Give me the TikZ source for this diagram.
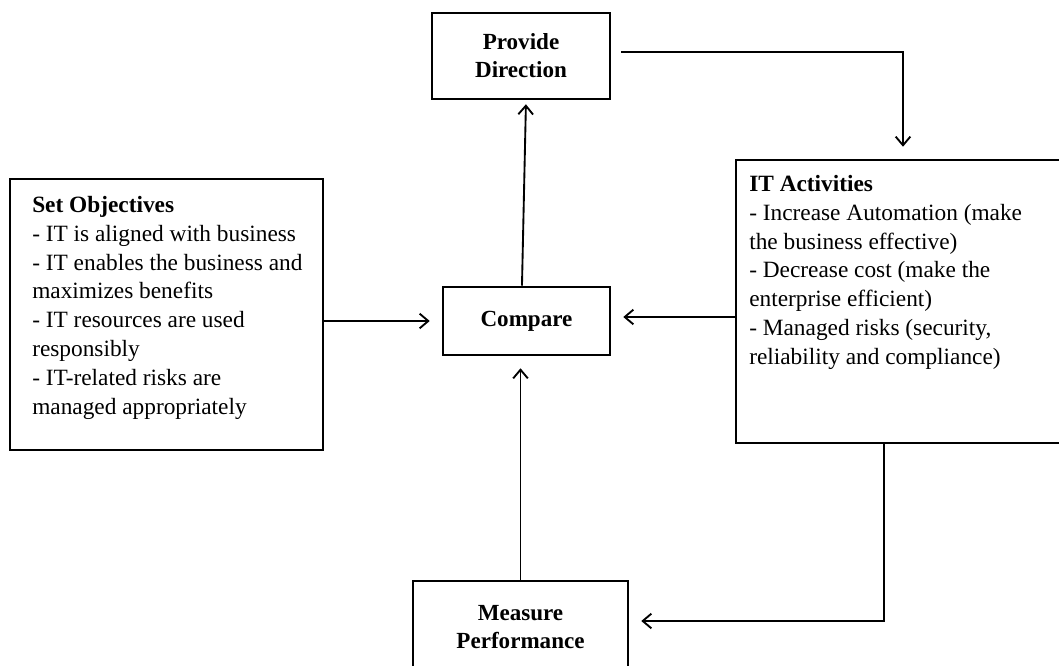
\documentclass[tikz,border=0pt]{standalone}
\usepackage{fontspec}
\setmainfont{Liberation Serif}
\usetikzlibrary{arrows.meta,calc}
\begin{document}
\begin{tikzpicture}[x=0.75pt,y=-0.75pt,
  box/.style={draw, line width=1.9pt, inner sep=0pt},
  lbl/.style={font=\fontsize{17.3}{21}\selectfont\bfseries, align=center},
  body/.style={font=\fontsize{17.5}{21.6}\selectfont, align=left, anchor=north west, inner sep=0pt},
  arr/.style={-{Straight Barb[length=6.5pt,width=11pt,line width=1.4pt]}, line width=1.4pt, shorten >=9pt}]
\path[use as bounding box] (0,0) rectangle (1059,666);
\clip (0,0) rectangle (1059,666);

\node[box, lbl, minimum width=133.5pt, minimum height=64.5pt] (prov) at (521,56) {Provide\\Direction};
\node[box, lbl, minimum width=125.25pt, minimum height=51pt] (cmp) at (526.5,321) {Compare};
\node[box, lbl, minimum width=161.25pt, minimum height=69pt] (meas) at (520.5,627) {Measure\\Performance};
\node[box, minimum width=234.75pt, minimum height=203.25pt] (set) at (166.5,314.5) {};
\node[box, minimum width=250.5pt, minimum height=212.25pt] (it) at (903,301.5) {};

\node[body] (settxt) at (32,196) {\textbf{Set Objectives}\\
- IT is aligned with business\\
- IT enables the business and\\
maximizes benefits\\
- IT resources are used\\
responsibly\\
- IT-related risks are\\
managed appropriately};

\node[body] (ittxt) at (749,175) {\textbf{IT Activities}\\
- Increase Automation (make\\
the business effective)\\
- Decrease cost (make the\\
enterprise efficient)\\
- Managed risks (security,\\
reliability and compliance)};

\coordinate (c1) at ($(cmp.east)+(0,-4)$);
\draw[arr, shorten <=7.5pt] ([yshift=3pt]prov.east) -| (it.north);
\draw[arr] (set.east |- cmp.west) -- (cmp.west);
\draw[arr] (it.west |- c1) -- (c1);
\draw[arr, shorten >=3pt] ([xshift=-3.4pt]cmp.north) -- ([xshift=3.75pt]prov.south);
\draw[arr] (meas.north) -- (meas.north |- cmp.south);
\draw[arr] ([xshift=-14.25pt]it.south) |- ([yshift=4.5pt]meas.east);
\end{tikzpicture}
\end{document}
